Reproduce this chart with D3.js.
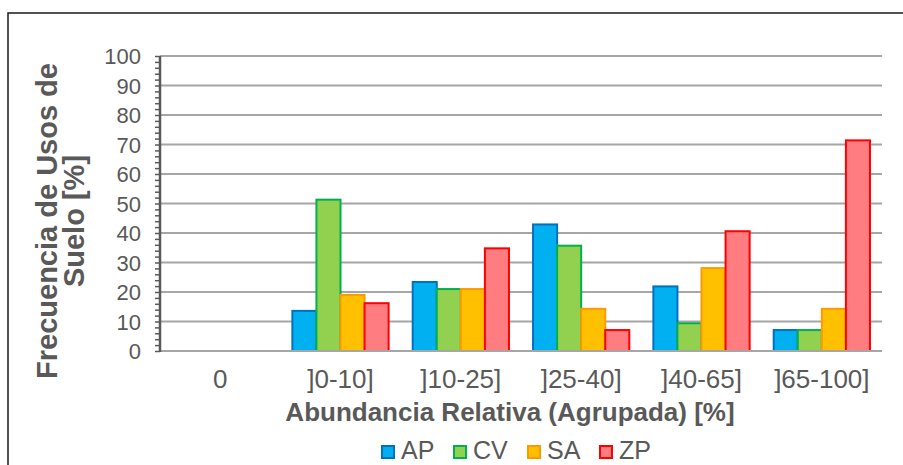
<!DOCTYPE html>
<html>
<head>
<meta charset="utf-8">
<script src="https://cdn.jsdelivr.net/npm/d3@7/dist/d3.min.js"></script>
<style>
  html, body { margin: 0; padding: 0; background: #fff; }
  svg { display: block; font-family: "Liberation Sans", Arial, sans-serif; }
</style>
</head>
<body>
<svg id="chart" width="903" height="465"></svg>
<script>
// Relative abundance classes (x axis)
const categories = ["0", "]0-10]", "]10-25]", "]25-40]", "]40-65]", "]65-100]"];
// Land-use series
const seriesNames = ["AP", "CV", "SA", "ZP"];
// Frequency [%] per class for each land use
const AP = [0, 13.6, 23.4, 42.9, 21.9, 7.1];
const CV = [0, 51.3, 21.0, 35.7, 9.4, 7.1];
const SA = [0, 19.0, 21.0, 14.3, 28.1, 14.3];
const ZP = [0, 16.2, 34.8, 7.1, 40.6, 71.4];
// Y axis tick labels
const yTicks = [0, 10, 20, 30, 40, 50, 60, 70, 80, 90, 100];

const seriesValues = { AP, CV, SA, ZP };
const fills = { AP: "#00B0F0", CV: "#92D050", SA: "#FFC000", ZP: "#FF7C80" };
const strokes = { AP: "#0070C0", CV: "#00B050", SA: "#FF9900", ZP: "#FF0000" };

const svg = d3.select("#chart");
const textColor = "#595959";

// Outer frame
svg.append("rect")
  .attr("x", 8).attr("y", 13).attr("width", 1000).attr("height", 1000)
  .attr("fill", "none").attr("stroke", "#1a1a1a").attr("stroke-width", 1.5);

const plot = { left: 160, right: 882, top: 56, bottom: 351 };

const y = d3.scaleLinear().domain([0, 100]).range([plot.bottom, plot.top]);
const x = d3.scaleBand().domain(categories).range([plot.left, plot.right]).paddingInner(0).paddingOuter(0);
const xs = d3.scaleBand().domain(seriesNames)
  .range([x.bandwidth() * 0.1, x.bandwidth() * 0.9]).padding(0);

// Horizontal gridlines
svg.append("g")
  .selectAll("line")
  .data(yTicks.filter(v => v > 0))
  .join("line")
  .attr("x1", plot.left).attr("x2", plot.right)
  .attr("y1", d => y(d)).attr("y2", d => y(d))
  .attr("stroke", "#A6A6A6").attr("stroke-width", 2);

// Bars
const rows = [];
categories.forEach((c, i) => {
  seriesNames.forEach(s => {
    rows.push({ cat: c, series: s, value: seriesValues[s][i] });
  });
});

svg.append("g")
  .selectAll("rect")
  .data(rows.filter(d => d.value > 0))
  .join("rect")
  .attr("x", d => x(d.cat) + xs(d.series))
  .attr("y", d => y(d.value))
  .attr("width", xs.bandwidth())
  .attr("height", d => y(0) - y(d.value))
  .attr("fill", d => fills[d.series])
  .attr("stroke", d => strokes[d.series])
  .attr("stroke-width", 2);

// Baseline
svg.append("line")
  .attr("x1", plot.left).attr("x2", plot.right)
  .attr("y1", y(0)).attr("y2", y(0))
  .attr("stroke", "#A6A6A6").attr("stroke-width", 2);

// Y axis with minor ticks every 2 %
const yAxis = d3.axisLeft(y)
  .tickValues(d3.range(0, 101, 2))
  .tickSize(5)
  .tickFormat("");
const gy = svg.append("g").attr("transform", `translate(${plot.left},0)`).call(yAxis);
gy.select(".domain").attr("stroke", textColor).attr("stroke-width", 2.5)
  .attr("d", `M0,${y(100)}V${y(0) + 1}`);
gy.selectAll(".tick line").attr("stroke", textColor).attr("stroke-width", 1.5);

// Y tick labels
svg.append("g")
  .selectAll("text")
  .data(yTicks)
  .join("text")
  .attr("x", 141)
  .attr("y", d => y(d) + 8)
  .attr("text-anchor", "end")
  .attr("font-size", 22)
  .attr("fill", textColor)
  .text(d => d);

// X category labels
svg.append("g")
  .selectAll("text")
  .data(categories)
  .join("text")
  .attr("x", d => x(d) + x.bandwidth() / 2)
  .attr("y", 388)
  .attr("text-anchor", "middle")
  .attr("font-size", 26)
  .attr("fill", textColor)
  .text(d => d);

// X axis title
svg.append("text")
  .attr("x", 510).attr("y", 421)
  .attr("text-anchor", "middle")
  .attr("font-size", 26).attr("font-weight", "bold")
  .attr("fill", textColor)
  .text("Abundancia Relativa (Agrupada) [%]");

// Y axis title (two lines)
const yTitle = svg.append("text")
  .attr("transform", "translate(0,221) rotate(-90)")
  .attr("text-anchor", "middle")
  .attr("font-size", 29).attr("font-weight", "bold")
  .attr("fill", textColor);
yTitle.append("tspan").attr("x", 0).attr("y", 57).text("Frecuencia de Usos de");
yTitle.append("tspan").attr("x", 0).attr("y", 84).text("Suelo [%]");

// Legend
const legendX = [381, 453, 527, 599];
const legend = svg.append("g")
  .selectAll("g")
  .data(seriesNames)
  .join("g")
  .attr("transform", (d, i) => `translate(${legendX[i]},0)`);
legend.append("rect")
  .attr("x", 1).attr("y", 446).attr("width", 12).attr("height", 12)
  .attr("fill", d => fills[d]).attr("stroke", d => strokes[d]).attr("stroke-width", 2);
legend.append("text")
  .attr("x", 20).attr("y", 459)
  .attr("font-size", 25)
  .attr("fill", textColor)
  .text(d => d);
</script>
</body>
</html>
